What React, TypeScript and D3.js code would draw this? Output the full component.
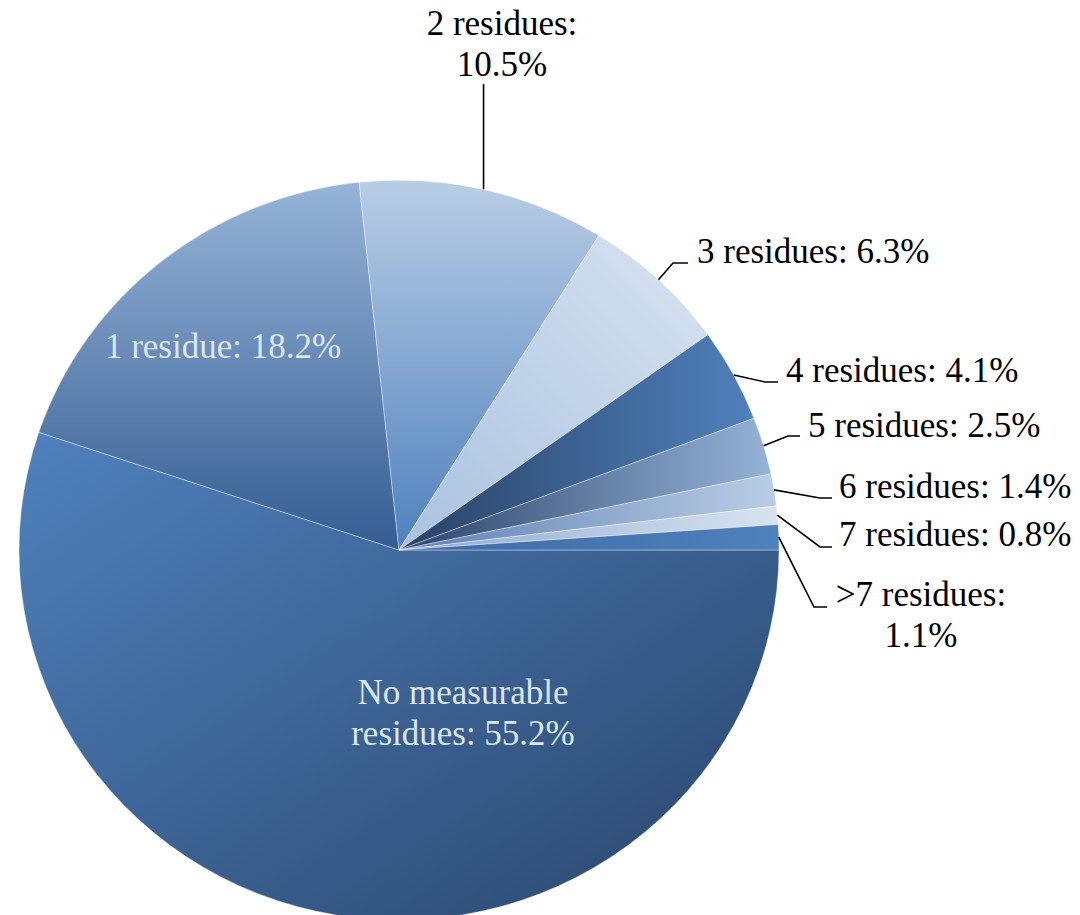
import React from "react";
import * as d3 from "d3";

// ---- data ----
const categories = [
  "No measurable residues",
  "1 residue",
  "2 residues",
  "3 residues",
  "4 residues",
  "5 residues",
  "6 residues",
  "7 residues",
  ">7 residues",
];
const values = [55.2, 18.2, 10.5, 6.3, 4.1, 2.5, 1.4, 0.8, 1.1];

// ---- styles (gradient per slice: direction in bbox units, start colour, end colour) ----
const sliceGradients = [
  { x1: 0, y1: 0, x2: 1, y2: 1, c1: "#4f81bd", c2: "#2a466c" },
  { x1: 0, y1: 0, x2: 0, y2: 1, c1: "#96b4d8", c2: "#355d92" },
  { x1: 0, y1: 0, x2: 0, y2: 1, c1: "#b9cde5", c2: "#4f81bd" },
  { x1: 1, y1: 0, x2: 0, y2: 1, c1: "#d7e3f0", c2: "#aac2e0" },
  { x1: 0, y1: 0, x2: 1, y2: 0, c1: "#2a4266", c2: "#4f81bd" },
  { x1: 0, y1: 0, x2: 1, y2: 0, c1: "#2c4569", c2: "#95b3d7" },
  { x1: 0, y1: 0, x2: 1, y2: 0, c1: "#5e80b3", c2: "#b9cde5" },
  { x1: 0, y1: 0, x2: 1, y2: 0, c1: "#8fa9d0", c2: "#d7e3f0" },
  { x1: 0, y1: 0, x2: 1, y2: 0, c1: "#3d6aa3", c2: "#4f81bd" },
];

// ---- label layout (positions only) ----
type Layout = {
  inside: boolean;
  split: number; // break line after this many words (0 = single line)
  x: number;
  y: number;
  anchor: "start" | "middle";
  leader?: [number, number][]; // points after the edge point
  vertical?: number; // vertical leader ending at this y
};
const labelLayout: Layout[] = [
  { inside: true, split: 2, x: 463, y: 704, anchor: "middle" },
  { inside: true, split: 0, x: 223, y: 358, anchor: "middle" },
  { inside: false, split: 2, x: 502, y: 35, anchor: "middle", vertical: 84 },
  { inside: false, split: 0, x: 697, y: 263, anchor: "start", leader: [[673, 263], [688, 263]] },
  { inside: false, split: 0, x: 786, y: 382, anchor: "start", leader: [[765, 382], [778, 382]] },
  { inside: false, split: 0, x: 808, y: 437, anchor: "start", leader: [[788, 436], [800, 436]] },
  { inside: false, split: 0, x: 839, y: 498, anchor: "start", leader: [[820, 498], [832, 498]] },
  { inside: false, split: 0, x: 839, y: 546, anchor: "start", leader: [[820, 547], [832, 547]] },
  { inside: false, split: 2, x: 921, y: 606, anchor: "middle", leader: [[814, 607], [827, 607]] },
];

const CX = 399;
const CY = 550;
const RX = 380;
const RY = 370;
const LINE_H = 41;
const FONT = "'Liberation Serif', 'Times New Roman', serif";

export default function App() {
  const pie = d3
    .pie<number>()
    .sort(null)
    .value((d) => d)
    .startAngle(Math.PI / 2)
    .endAngle(Math.PI / 2 + 2 * Math.PI);
  const arcs = pie(values);
  const arc = d3.arc<d3.PieArcDatum<number>>().innerRadius(0).outerRadius(1);

  return (
    <svg
      width={1080}
      height={915}
      style={{ position: "absolute", left: 0, top: 0, background: "#fff" }}
    >
      <defs>
        {sliceGradients.map((g, i) => (
          <linearGradient key={i} id={`g${i}`} x1={g.x1} y1={g.y1} x2={g.x2} y2={g.y2}>
            <stop offset="0%" stopColor={g.c1} />
            <stop offset="100%" stopColor={g.c2} />
          </linearGradient>
        ))}
      </defs>
      <g transform={`translate(${CX},${CY}) scale(${RX},${RY})`}>
        {arcs.map((a, i) => (
          <path
            key={i}
            d={arc(a) || ""}
            fill={`url(#g${i})`}
            stroke="#ffffff"
            strokeOpacity={0.45}
            strokeWidth={0.8}
            vectorEffect="non-scaling-stroke"
          />
        ))}
      </g>
      {arcs.map((a, i) => {
        const L = labelLayout[i];
        const mid = (a.startAngle + a.endAngle) / 2;
        const ex = CX + RX * Math.sin(mid);
        const ey = CY - RY * Math.cos(mid);
        const full = `${categories[i]}: ${values[i].toFixed(1)}%`;
        const words = full.split(" ");
        const lines =
          L.split > 0
            ? [words.slice(0, L.split).join(" "), words.slice(L.split).join(" ")]
            : [full];
        let leader: string | null = null;
        if (L.vertical !== undefined) {
          leader = `M${ex},${ey}L${ex},${L.vertical}`;
        } else if (L.leader) {
          leader = `M${ex},${ey}` + L.leader.map((p) => `L${p[0]},${p[1]}`).join("");
        }
        return (
          <g key={i}>
            {leader && <path d={leader} fill="none" stroke="#000" strokeWidth={1.6} />}
            <text
              fontFamily={FONT}
              fontSize={35}
              fill={L.inside ? "#dce6f2" : "#000"}
              textAnchor={L.anchor}
            >
              {lines.map((ln, j) => (
                <tspan key={j} x={L.x} y={L.y + j * LINE_H}>
                  {ln}
                </tspan>
              ))}
            </text>
          </g>
        );
      })}
    </svg>
  );
}
